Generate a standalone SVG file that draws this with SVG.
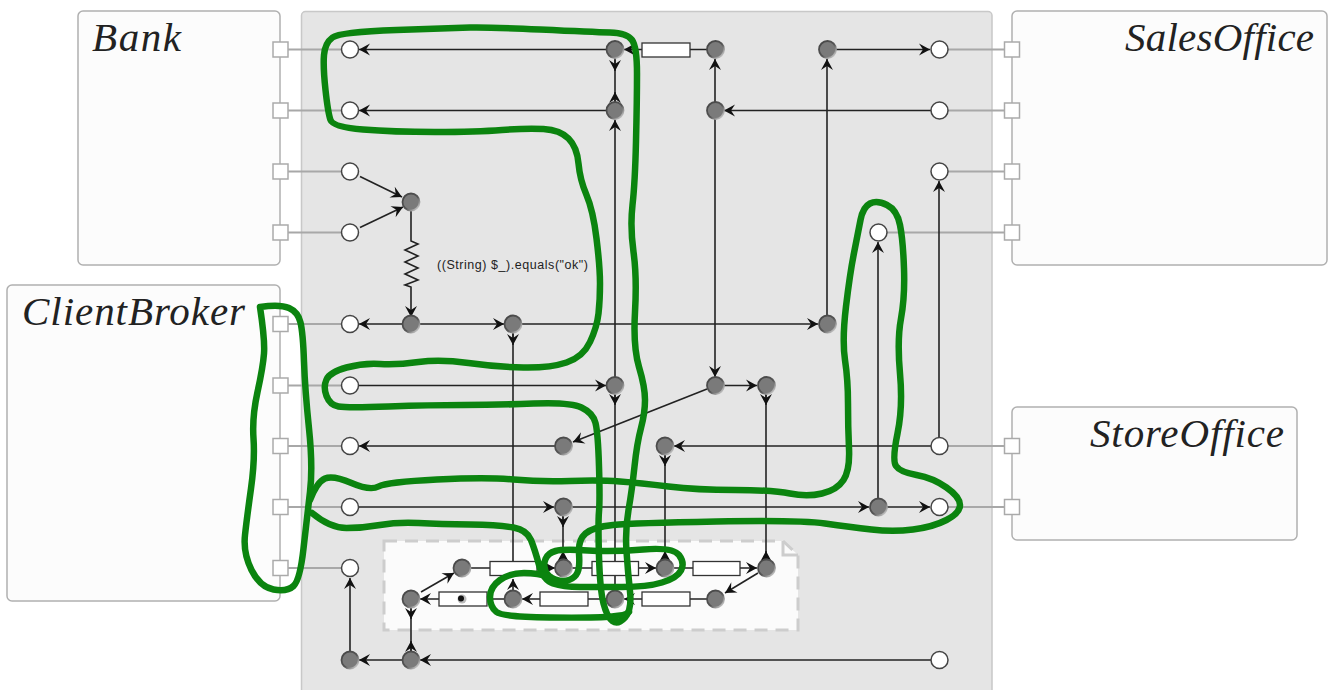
<svg xmlns="http://www.w3.org/2000/svg" width="1333" height="690" viewBox="0 0 1333 690">
<style>
.pool{fill:#fcfcfc;stroke:#b0b0b0;stroke-width:1.5}
.panel{fill:#e5e5e5;stroke:#c8c8c8;stroke-width:1.5}
.title{font-family:"Liberation Serif",serif;font-style:italic;font-size:41px;fill:#222}
.port{fill:#fff;stroke:#aaa;stroke-width:1.5}
.pl{fill:none;stroke:#a8a8a8;stroke-width:2.2}
.c{fill:none;stroke:#222;stroke-width:1.6}
.a{fill:none;stroke:#222;stroke-width:1.6;marker-end:url(#arr)}
.w{fill:#fff;stroke:#444;stroke-width:1.5}
.g{fill:#7a7a7a;stroke:url(#rim);stroke-width:1.8}
.b{fill:#fff;stroke:#333;stroke-width:1.3}
.ink{fill:none;stroke:#0b840f;stroke-width:6.5;stroke-linecap:round;stroke-linejoin:round}
.lbl{font-family:"Liberation Sans",Arial,sans-serif;font-size:12.5px;fill:#222}
</style>
<defs>
<marker id="arr" viewBox="-12 -7 13 14" refX="0" refY="0" markerWidth="13" markerHeight="14" markerUnits="userSpaceOnUse" orient="auto"><path d="M0 0L-11-6L-7 0L-11 6Z" fill="#111"/></marker>
<linearGradient id="rim" x1="0" y1="0" x2="1" y2="1"><stop offset="0" stop-color="#444"/><stop offset=".55" stop-color="#555"/><stop offset="1" stop-color="#e6e6e6"/></linearGradient>
</defs>
<g id="pools">
<g id="Bank"><rect class="pool" x="78" y="11" width="202" height="254" rx="5"/><text class="title" x="92" y="51" textLength="89">Bank</text></g>
<g id="ClientBroker"><rect class="pool" x="7" y="285" width="273" height="316" rx="5"/><text class="title" x="22" y="325" textLength="223">ClientBroker</text></g>
<g id="SalesOffice"><rect class="pool" x="1012" y="11" width="315" height="254" rx="5"/><text class="title" x="1125" y="51" textLength="189">SalesOffice</text></g>
<g id="StoreOffice"><rect class="pool" x="1012" y="407" width="285" height="133" rx="5"/><text class="title" x="1090" y="447" textLength="194">StoreOffice</text></g>
<g id="Panel"><rect class="panel" x="301.5" y="11.5" width="690.5" height="690" rx="4"/></g>
<g id="Subprocess"><path d="M384 541H783L798 555V630H384Z" fill="#fbfbfb" stroke="#cdcdcd" stroke-width="3" stroke-dasharray="13 8"/><path d="M783 541V555H798" fill="none" stroke="#cdcdcd" stroke-width="3"/></g>
</g>
<g id="port-links">
<path class="pl" d="M280 49.500H350M280 110.500H350M280 171.500H350M280 232.500H350M280 324H350M280 385.500H350M280 446H350M280 507H350M280 568H350"/>
<path class="pl" d="M939 49.500H1012M939 110.500H1012M939 171.500H1012M878 232.500H1012M939 446H1012M939 507H1012"/>
</g>
<g id="connectors">
<path class="a" d="M615 49.500H359"/><path class="a" d="M715 49.500H624"/>
<path class="c" d="M615 58V102"/><path class="a" d="M615 60V71"/><path class="a" d="M615 102V92"/>
<path class="a" d="M715 110V59"/><path class="a" d="M827 324V59"/><path class="a" d="M827 49.500H930"/>
<path class="a" d="M939 110.500H724"/><path class="a" d="M615 385V120"/><path class="a" d="M615 110.500H359"/>
<path class="a" d="M360 176.500L402 197"/><path class="a" d="M360 227.500L403 207"/>
<path class="a" d="M411 202V241L418 244L405 250L418 256L405 262L418 268L405 274L418 280L405 285L411 287V317"/>
<path class="a" d="M411 324H359"/><path class="a" d="M411 324H504"/><path class="a" d="M513 324H818"/>
<path class="c" d="M513 324V561"/><path class="a" d="M513 334V345"/>
<path class="a" d="M350 385.500H606"/><path class="a" d="M715 110V377"/><path class="a" d="M715 385.500H757"/>
<path class="a" d="M707 389L573 442"/>
<path class="c" d="M615 385V591"/><path class="a" d="M615 394V405"/>
<path class="c" d="M766 385V561"/><path class="a" d="M766 394V405"/><path class="a" d="M766 560V551"/>
<path class="a" d="M563 446H359"/><path class="a" d="M939 446H674"/>
<path class="c" d="M665 446V561"/><path class="a" d="M665 455V466"/><path class="a" d="M665 560V551"/>
<path class="a" d="M350 507H554"/><path class="a" d="M563 507H869"/><path class="a" d="M878 507H930"/>
<path class="c" d="M563 507V561"/><path class="a" d="M563 516V527"/><path class="a" d="M563 560V551"/>
<path class="a" d="M878 507V242"/><path class="a" d="M939 446V181"/>
<path class="a" d="M462 568H555"/><path class="a" d="M563 568H656"/><path class="a" d="M665 568H757"/>
<path class="a" d="M715 599H624"/><path class="a" d="M615 599H522"/><path class="a" d="M513 599H420"/>
<path class="a" d="M513 591V579"/>
<path class="a" d="M421 592L454 573"/><path class="a" d="M758 573L725 593"/>
<path class="c" d="M411 599V660"/><path class="a" d="M411 608V619"/><path class="a" d="M411 652V641"/>
<path class="a" d="M939 660H420"/><path class="a" d="M411 660H359"/><path class="a" d="M350 660V578"/>
</g>
<g id="label"><text class="lbl" x="437" y="269" textLength="151">((String) $_).equals("ok")</text></g>
<g id="tasks">
<rect class="b" x="642" y="43" width="48" height="14"/>
<rect class="b" x="490" y="561.500" width="47" height="14"/><rect class="b" x="592" y="561.500" width="46.500" height="14"/><rect class="b" x="693" y="561.500" width="47" height="14"/>
<rect class="b" x="439" y="592" width="48" height="14"/><rect class="b" x="540" y="592" width="48" height="14"/><rect class="b" x="642" y="592" width="48" height="14"/>
<circle cx="462" cy="599" r="4.500" fill="#bbb"/><circle cx="461" cy="598.500" r="3" fill="#111"/>
</g>
<g id="ports">
<g id="p1"><rect class="port" x="273" y="42" width="15" height="15"/></g><g id="p2"><rect class="port" x="273" y="103" width="15" height="15"/></g><g id="p3"><rect class="port" x="273" y="164" width="15" height="15"/></g><g id="p4"><rect class="port" x="273" y="225" width="15" height="15"/></g>
<g id="p5"><rect class="port" x="273" y="316.500" width="15" height="15"/></g><g id="p6"><rect class="port" x="273" y="378" width="15" height="15"/></g><g id="p7"><rect class="port" x="273" y="438.500" width="15" height="15"/></g><g id="p8"><rect class="port" x="273" y="499.500" width="15" height="15"/></g><g id="p9"><rect class="port" x="273" y="560.500" width="15" height="15"/></g>
<g id="p10"><rect class="port" x="1004.500" y="42" width="15" height="15"/></g><g id="p11"><rect class="port" x="1004.500" y="103" width="15" height="15"/></g><g id="p12"><rect class="port" x="1004.500" y="164" width="15" height="15"/></g><g id="p13"><rect class="port" x="1004.500" y="225" width="15" height="15"/></g>
<g id="p14"><rect class="port" x="1004.500" y="438.500" width="15" height="15"/></g><g id="p15"><rect class="port" x="1004.500" y="499.500" width="15" height="15"/></g>
</g>
<g id="places">
<g id="w1"><circle class="w" cx="350" cy="49.500" r="8.500"/></g><g id="w2"><circle class="w" cx="350" cy="110.500" r="8.500"/></g><g id="w3"><circle class="w" cx="350" cy="171.500" r="8.500"/></g><g id="w4"><circle class="w" cx="350" cy="232.500" r="8.500"/></g><g id="w5"><circle class="w" cx="350" cy="324" r="8.500"/></g><g id="w6"><circle class="w" cx="350" cy="385.500" r="8.500"/></g><g id="w7"><circle class="w" cx="350" cy="446" r="8.500"/></g><g id="w8"><circle class="w" cx="350" cy="507" r="8.500"/></g><g id="w9"><circle class="w" cx="350" cy="568" r="8.500"/></g>
<g id="w10"><circle class="w" cx="939.500" cy="49.500" r="8.500"/></g><g id="w11"><circle class="w" cx="939.500" cy="110.500" r="8.500"/></g><g id="w12"><circle class="w" cx="939.500" cy="171.500" r="8.500"/></g><g id="w13"><circle class="w" cx="878.500" cy="232.500" r="8.500"/></g><g id="w14"><circle class="w" cx="939.500" cy="446" r="8.500"/></g><g id="w15"><circle class="w" cx="939.500" cy="507" r="8.500"/></g><g id="w16"><circle class="w" cx="939.500" cy="660" r="8.500"/></g>
<g id="g1"><circle class="g" cx="615" cy="49.500" r="8.500"/></g><g id="g2"><circle class="g" cx="715.500" cy="49.500" r="8.500"/></g><g id="g3"><circle class="g" cx="827.500" cy="49.500" r="8.500"/></g><g id="g4"><circle class="g" cx="615" cy="110.500" r="8.500"/></g><g id="g5"><circle class="g" cx="715.500" cy="110.500" r="8.500"/></g>
<g id="g6"><circle class="g" cx="411" cy="202" r="8.500"/></g><g id="g7"><circle class="g" cx="411" cy="324" r="8.500"/></g><g id="g8"><circle class="g" cx="513" cy="324" r="8.500"/></g><g id="g9"><circle class="g" cx="827.500" cy="324" r="8.500"/></g>
<g id="g10"><circle class="g" cx="615" cy="385.500" r="8.500"/></g><g id="g11"><circle class="g" cx="715.500" cy="385.500" r="8.500"/></g><g id="g12"><circle class="g" cx="766.500" cy="385.500" r="8.500"/></g>
<g id="g13"><circle class="g" cx="563.500" cy="446" r="8.500"/></g><g id="g14"><circle class="g" cx="665" cy="446" r="8.500"/></g>
<g id="g15"><circle class="g" cx="563.500" cy="507" r="8.500"/></g><g id="g16"><circle class="g" cx="878.500" cy="507" r="8.500"/></g>
<g id="g17"><circle class="g" cx="462" cy="568" r="8.500"/></g><g id="g18"><circle class="g" cx="563.500" cy="568" r="8.500"/></g><g id="g19"><circle class="g" cx="665" cy="568" r="8.500"/></g><g id="g20"><circle class="g" cx="766.500" cy="568" r="8.500"/></g>
<g id="g21"><circle class="g" cx="411" cy="599" r="8.500"/></g><g id="g22"><circle class="g" cx="513" cy="599" r="8.500"/></g><g id="g23"><circle class="g" cx="615" cy="599" r="8.500"/></g><g id="g24"><circle class="g" cx="715.500" cy="599" r="8.500"/></g>
<g id="g25"><circle class="g" cx="350" cy="660" r="8.500"/></g><g id="g26"><circle class="g" cx="411" cy="660" r="8.500"/></g>
</g>
<g id="annotation">
<path class="ink" d="M260 307Q280 304 289 308Q298 312 300.500 322.500Q303 333 304 361.500Q305 390 309 428.500Q313 467 310 492Q307 517 303.500 548.500Q300 580 293.500 586Q287 592 273.500 589.500Q260 587 251.500 570Q243 553 245 535Q247 517 251 488.500Q255 460 253.500 438.500Q252 417 257.500 392Q263 367 264 353.500Q265 340 260 307"/>
<path class="ink" d="M310 500Q317 482 325 478.500Q333 475 351.500 483Q370 491 378.500 486.500Q387 482 437 479.500Q487 477 513.500 479.500Q540 482 570 481Q600 480 620 481.500Q640 483 668.500 486.500Q697 490 735 490Q773 490 790 493.500Q807 497 822 493.500Q837 490 843.500 480Q850 470 849 448.500Q848 427 848 403.500Q848 380 845 360Q842 340 846 306.500Q850 273 854 253Q858 233 860.500 220Q863 207 870 203.500Q877 200 887 205Q897 210 900 225Q903 240 904 268.500Q905 297 901 318.500Q897 340 900 373.500Q903 407 897.500 433.500Q892 460 896 466Q900 472 916.500 475Q933 478 946.500 487.500Q960 497 960 505Q960 513 946.500 520Q933 527 913 529.500Q893 532 871.500 529.500Q850 527 825 523.500Q800 520 716.500 521.500Q633 523 613 525Q593 527 585.500 533.500Q578 540 579 553.500Q580 567 577.500 572.500Q575 578 569 580Q563 582 555.500 579.500Q548 577 545.500 571Q543 565 545.500 559Q548 553 555.500 551Q563 549 588 550.500Q613 552 643 549.500Q673 547 679 555Q685 563 681 570.500Q677 578 662 582.500Q647 587 622 587Q597 587 580 587Q563 587 553 583.500Q543 580 539 565Q535 550 531 540Q527 530 513.500 527.500Q500 525 470 524.500Q440 524 418.500 523Q397 522 380 525Q363 528 346.500 528Q330 528 312 513"/>
<path class="ink" d="M625 617.500Q632 610 630 591.500Q628 573 626.500 551.500Q625 530 628.500 510Q632 490 634.500 466.500Q637 443 641 428Q645 413 645 400Q645 387 639 367Q633 347 635 312Q637 277 633.500 252Q630 227 632.500 205Q635 183 636 141.500Q637 100 637 73.500Q637 47 632 40Q627 33 610 32.500Q593 32 540 29.500Q487 27 470 27.500Q453 28 396.500 30Q340 32 332.500 37.500Q325 43 324 55Q323 67 325.500 90Q328 113 330.500 120Q333 127 363 129.500Q393 132 435 132Q477 132 502 130Q527 128 543.500 129Q560 130 568.500 138.500Q577 147 578.500 163.500Q580 180 586.500 195Q593 210 596.500 238.500Q600 267 600 283.500Q600 300 598.500 313.500Q597 327 590 342Q583 357 566.500 362.500Q550 368 523.500 367.500Q497 367 468.500 363Q440 359 418.500 362Q397 365 380 364Q363 363 346.500 367.500Q330 372 326.500 379.500Q323 387 326.500 396Q330 405 338.500 406.500Q347 408 388.500 406.500Q430 405 463.500 405Q497 405 533.500 403.500Q570 402 581.500 407.500Q593 413 595.500 423Q598 433 599 466.500Q600 500 599 511.500Q598 523 599 556.500Q600 590 603.500 603.500Q607 617 612.500 621Q618 625 625 617.500"/>
<path class="ink" d="M629 612Q627 615 612 616.500Q597 618 550 617.500Q503 617 496.500 612Q490 607 490 597Q490 587 500 580Q510 573 524 573Q538 573 550 577"/>
</g>
</svg>
